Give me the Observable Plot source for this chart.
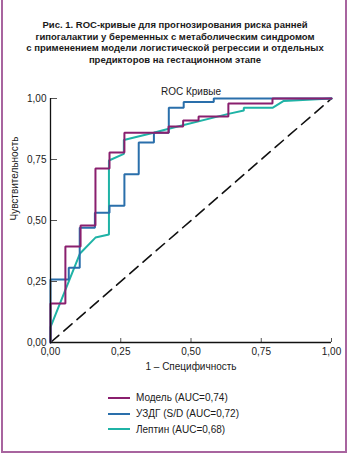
<!DOCTYPE html>
<html><head><meta charset="utf-8">
<script src="https://cdn.jsdelivr.net/npm/d3@7"></script>
<script src="https://cdn.jsdelivr.net/npm/@observablehq/plot@0.6"></script>
<style>
body{margin:0;background:#fff;}
#fig{position:relative;width:350px;height:455px;overflow:hidden;font-family:"Liberation Sans",Arial,sans-serif;color:#1a1a1a;background:#fff;}
#border{position:absolute;left:1px;top:-4px;width:342px;height:453px;border:2px solid #a8649f;}
#title{position:absolute;top:19px;left:0;width:350px;text-align:center;font-weight:bold;font-size:9.5px;line-height:11.7px;}
#chart{position:absolute;left:0;top:75px;}
#legend{position:absolute;left:108px;top:390px;font-size:10px;}
.row{display:flex;align-items:center;height:15.7px;}
.sw{width:22px;height:0;border-top:2.5px solid;margin-right:6px;}
</style></head>
<body>
<div id="fig">
  <div id="border"></div>
  <div id="title"></div>
  <div id="chart"></div>
  <div id="legend"></div>
</div>
<script>
const titleLines = [
  "Рис. 1. ROC-кривые для прогнозирования риска ранней",
  "гипогалактии у беременных с метаболическим синдромом",
  "с применением модели логистической регрессии и отдельных",
  "предикторов на гестационном этапе"
];
const plotTitle = "ROC Кривые";
const xTitle = "1 – Специфичность";
const yTitle = "Чувствительность";

const seriesNames = ["Модель (AUC=0,74)", "УЗДГ (S/D (AUC=0,72)", "Лептин (AUC=0,68)"];
const seriesColors = ["#8a1f6e", "#2a6fab", "#1fb3a6"];

const modelFpr = [0,0,0.053,0.053,0.107,0.107,0.16,0.16,0.21,0.21,0.263,0.263,0.42,0.42,0.472,0.472,0.527,0.527,0.633,0.633,0.79,0.79,1];
const modelTpr = [0,0.16,0.16,0.393,0.393,0.48,0.48,0.713,0.713,0.779,0.779,0.86,0.86,0.885,0.885,0.91,0.91,0.926,0.926,0.98,0.98,1,1];

const uzdgFpr = [0,0,0.065,0.065,0.104,0.104,0.158,0.158,0.21,0.21,0.263,0.263,0.314,0.314,0.368,0.368,0.421,0.421,0.474,0.474,0.581,0.581,1];
const uzdgTpr = [0,0.258,0.258,0.306,0.306,0.47,0.47,0.532,0.532,0.56,0.56,0.69,0.69,0.82,0.82,0.86,0.86,0.962,0.962,0.986,0.986,1,1];

const leptinFpr = [0,0,0.105,0.16,0.208,0.208,0.261,0.261,0.367,0.421,0.633,0.688,0.688,0.79,0.83,1];
const leptinTpr = [0,0.063,0.365,0.43,0.443,0.746,0.773,0.83,0.86,0.876,0.937,0.951,0.962,0.962,0.99,1];

const refFpr = [0, 1];
const refTpr = [0, 1];

const tickValues = [0, 0.25, 0.5, 0.75, 1];
const tickLabels = ["0,00", "0,25", "0,50", "0,75", "1,00"];

document.getElementById("title").innerHTML = titleLines.join("<br>");

const allFpr = [modelFpr, uzdgFpr, leptinFpr];
const allTpr = [modelTpr, uzdgTpr, leptinTpr];
const rows = [];
// draw leptin first, then uzdg, then model on top
[2, 1, 0].forEach(s => {
  allFpr[s].forEach((f, i) => rows.push({fpr: f, tpr: allTpr[s][i], series: seriesNames[s]}));
});
const refRows = refFpr.map((f, i) => ({fpr: f, tpr: refTpr[i]}));
const fmt = d => tickLabels[tickValues.indexOf(d)];

const chart = Plot.plot({
  width: 350, height: 305,
  marginLeft: 50, marginRight: 19, marginTop: 23, marginBottom: 38,
  style: {fontFamily: '"Liberation Sans", Arial, sans-serif', fontSize: "10px", color: "#1a1a1a", background: "transparent"},
  x: {domain: [0, 1]},
  y: {domain: [0, 1]},
  color: {domain: seriesNames, range: seriesColors},
  marks: [
    Plot.line(refRows, {x: "fpr", y: "tpr", stroke: "#111", strokeWidth: 1.6, strokeDasharray: "11,6.5"}),
    Plot.line(rows, {x: "fpr", y: "tpr", z: "series", stroke: "series", strokeWidth: 2, strokeLinejoin: "miter"}),
    Plot.axisX({ticks: tickValues, tickFormat: fmt, tickSize: -4, tickPadding: 9, label: null, stroke: "#555"}),
    Plot.axisY({ticks: tickValues, tickFormat: fmt, tickSize: -7, tickPadding: 11, label: null, stroke: "#555"}),
    Plot.ruleX([0], {stroke: "#111", strokeWidth: 1.3}),
    Plot.ruleY([0], {stroke: "#111", strokeWidth: 1.3}),
    Plot.text([plotTitle], {frameAnchor: "top", dy: -11, fontSize: 10, fill: "#1a1a1a"}),
    Plot.text([xTitle], {frameAnchor: "bottom", dy: 27, fontSize: 10, fill: "#1a1a1a"}),
    Plot.text([yTitle], {frameAnchor: "left", dx: -36, rotate: -90, fontSize: 10, fill: "#1a1a1a"})
  ]
});
document.getElementById("chart").appendChild(chart);

const legend = document.getElementById("legend");
seriesNames.forEach((n, i) => {
  const r = document.createElement("div");
  r.className = "row";
  const sw = document.createElement("span");
  sw.className = "sw";
  sw.style.borderTopColor = seriesColors[i];
  const t = document.createElement("span");
  t.textContent = n;
  r.appendChild(sw); r.appendChild(t);
  legend.appendChild(r);
});
</script>
</body></html>
